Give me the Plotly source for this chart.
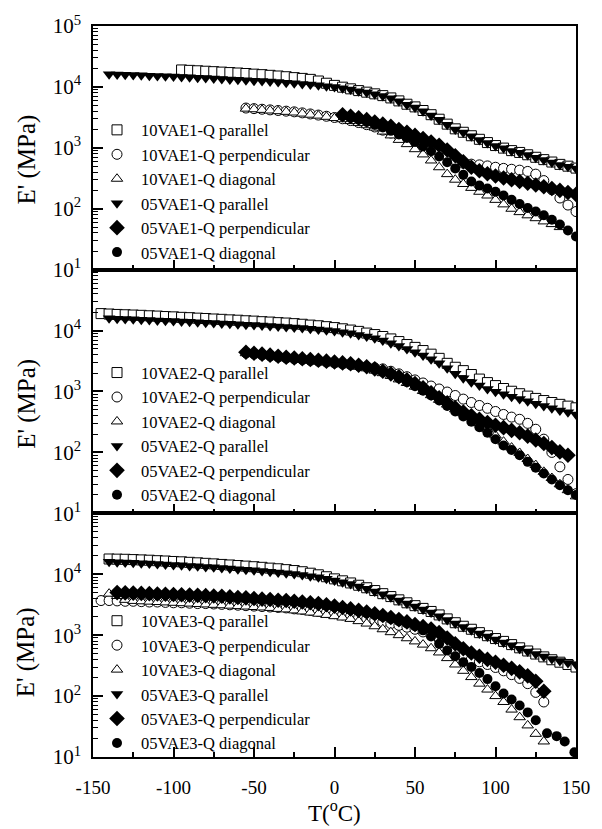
import plotly.graph_objects as go

# ---------------- data (T in degC, E' in MPa) ----------------
# Panel 1 : VAE1
T_p1_10par = list(range(-95, 151, 5))
E_p1_10par = [19000,18700,18400,18100,17800,17500,17200,16900,16600,16200,
              15900,15500,15100,14700,14200,13800,13300,12500,11500,
              10600,9900,9300,8700,8200,7700,7200,6600,5900,5200,
              4700,4100,3500,2950,2450,2050,1800,1580,1380,1220,
              1090,990,900,840,770,700,640,585,535,500,465]
T_p1_10perp = list(range(-55, 151, 5))
E_p1_10perp = [4500,4400,4300,4200,4100,4000,3900,3750,3600,3450,3300,
               3150,3000,2800,2600,2400,2200,1950,1750,1550,1380,
               1230,1100,980,860,740,630,560,540,525,505,
               480,460,445,430,410,370,290,205,150,115,90]
T_p1_10diag = list(range(-55, 141, 5))
E_p1_10diag = [4400,4300,4200,4100,4000,3900,3800,3650,3500,3380,3230,
               3080,2950,2750,2550,2350,2150,1850,1600,1350,1150,
               950,780,620,480,370,300,255,220,190,165,
               140,118,100,88,78,70,62,56,50]
T_p1_05par = list(range(-140, 151, 5))
E_p1_05par = [16200,16000,15800,15700,15500,15300,15100,15000,14800,14500,
              14400,14200,14000,13800,13500,13200,13100,12900,12600,12500,
              12300,12000,11700,11500,11200,11000,10700,10300,
              10000,9550,9100,8500,8100,7600,7100,6500,5800,5100,
              4600,4000,3400,2900,2400,2000,1780,1550,1350,1200,
              1070,980,890,830,760,690,630,575,525,490,457]
T_p1_05perp = list(range(5, 151, 5))
E_p1_05perp = [3500,3300,3100,2900,2650,2450,2250,2000,1800,1600,
               1420,1250,1100,920,740,590,480,420,375,345,
               320,300,280,262,245,230,215,200,185,172]
T_p1_05diag = list(range(5, 151, 5))
E_p1_05diag = [3300,3100,2900,2650,2400,2150,1900,1650,1450,1250,
               1050,880,720,580,460,360,280,240,215,190,
               165,140,120,103,90,78,66,55,44,35]

# Panel 2 : VAE2
T_p2_10par = list(range(-145, 151, 5))
E_p2_10par = [19000,18700,18400,18200,18000,17800,17500,17300,17000,16800,
              16500,16300,16000,15800,15500,15300,15000,14800,14500,14300,
              14000,13800,13500,13300,13000,12700,12300,12000,11600,
              11200,10700,10200,9700,9100,8600,8000,7300,6600,5900,
              5300,4700,4100,3500,2900,2500,2200,1900,1600,1400,
              1250,1120,1010,920,840,770,710,660,615,575,540]
T_p2_10perp = list(range(-55, 151, 5))
E_p2_10perp = [4300,4150,4000,3850,3700,3550,3450,3350,3250,3150,3050,
               2950,2850,2750,2650,2550,2450,2350,2150,1950,1750,
               1550,1380,1230,1100,980,860,750,660,590,530,
               470,420,380,350,300,240,165,100,58,36,21]
T_p2_10diag = list(range(-55, 151, 5))
E_p2_10diag = [4250,4100,3950,3800,3650,3500,3400,3300,3200,3100,3000,
               2900,2800,2700,2550,2400,2200,2000,1800,1580,1380,
               1200,1020,870,730,610,510,440,380,300,240,
               190,150,120,98,78,62,48,38,30,24,19]
T_p2_05par = list(range(-140, 151, 5))
E_p2_05par = [16000,15700,15500,15300,15100,14900,14700,14500,14300,14100,
              13900,13700,13500,13300,13100,12900,12700,12500,12300,12100,
              11900,11700,11500,11200,11000,10700,10400,10100,
              9800,9400,9000,8500,8000,7500,6900,6200,5600,5000,
              4400,3900,3400,2900,2400,1950,1650,1420,1250,1100,
              990,900,820,750,690,630,580,530,490,455,420]
T_p2_05perp = list(range(-55, 146, 5))
E_p2_05perp = [4400,4250,4100,3950,3800,3650,3550,3450,3350,3250,3150,
               3050,2950,2850,2700,2550,2350,2150,1950,1750,1550,
               1350,1150,950,790,650,540,460,400,350,310,
               280,255,230,210,185,160,140,120,102,90]
T_p2_05diag = list(range(-55, 151, 5))
E_p2_05diag = [4350,4200,4050,3900,3750,3600,3500,3400,3300,3200,3100,
               3000,2900,2800,2650,2500,2300,2100,1900,1650,1420,
               1220,1030,860,710,580,470,390,320,260,210,
               165,130,110,90,70,56,45,36,29,24,20]

# Panel 3 : VAE3
T_p3_10par = list(range(-140, 151, 5))
E_p3_10par = [17800,17700,17600,17400,17200,17000,16700,16500,16200,16000,
              15700,15400,15100,14800,14500,14200,13900,13600,13300,13000,
              12600,12300,11900,11500,11000,10400,9800,9100,
              8400,7800,7200,6600,6000,5400,4800,4300,3800,3400,
              3050,2750,2450,2150,1850,1600,1400,1250,1100,980,
              880,790,700,620,550,490,440,395,360,330,300]
T_p3_10perp = list(range(-145, 131, 5))
E_p3_10perp = [3700,3700,3650,3600,3600,3550,3500,3500,3450,3400,
               3400,3350,3300,3300,3250,3200,3150,3100,3050,3000,
               2950,2900,2850,2800,2700,2650,2550,2450,2350,
               2250,2150,2050,1950,1850,1750,1650,1550,1450,1350,
               1250,1130,1000,860,700,560,450,400,365,330,
               295,260,225,195,160,115,80]
T_p3_10diag = list(range(-140, 131, 5))
E_p3_10diag = [4800,4400,3800,3650,3600,3550,3500,3450,3400,3350,
               3300,3250,3200,3150,3100,3050,3000,2950,2900,2850,
               2800,2700,2650,2550,2450,2350,2250,2150,
               2050,1950,1850,1700,1550,1400,1250,1120,1000,890,
               790,700,610,520,420,330,260,205,160,128,
               100,80,60,45,33,24,18]
T_p3_05par = list(range(-140, 151, 5))
E_p3_05par = [16000,15800,15600,15400,15200,15000,14700,14500,14200,14000,
              13700,13500,13200,13000,12700,12400,12100,11900,11600,11300,
              11000,10700,10400,10100,9700,9300,8900,8400,
              7900,7400,6900,6300,5800,5200,4700,4200,3700,3300,
              2950,2650,2350,2050,1780,1550,1360,1200,1060,950,
              850,760,680,600,540,490,445,405,375,350,330]
T_p3_05perp = list(range(-135, 131, 5))
E_p3_05perp = [5000,4950,4900,4850,4800,4750,4700,4650,4600,4550,
               4500,4450,4400,4350,4250,4150,4100,4000,3900,3850,
               3750,3700,3600,3500,3400,3300,3150,
               3000,2850,2700,2550,2400,2250,2100,1950,1800,1650,
               1500,1380,1260,1100,900,720,600,510,450,400,
               360,320,285,250,215,175,120]
T_p3_05diag = list(range(-135, 126, 5)) + [132, 138, 143, 149]
E_p3_05diag = [4900,4850,4800,4750,4700,4650,4600,4550,4500,4450,
               4400,4350,4300,4250,4150,4050,4000,3900,3800,3750,
               3650,3600,3500,3400,3300,3200,3050,
               2900,2750,2600,2450,2300,2150,2000,1850,1700,1550,
               1400,1200,950,720,560,450,360,300,240,190,
               145,110,88,70,54,40,
               24.5,22,18,12]

panels = [
    ("VAE1", [(T_p1_10par, E_p1_10par), (T_p1_10perp, E_p1_10perp), (T_p1_10diag, E_p1_10diag),
              (T_p1_05par, E_p1_05par), (T_p1_05perp, E_p1_05perp), (T_p1_05diag, E_p1_05diag)]),
    ("VAE2", [(T_p2_10par, E_p2_10par), (T_p2_10perp, E_p2_10perp), (T_p2_10diag, E_p2_10diag),
              (T_p2_05par, E_p2_05par), (T_p2_05perp, E_p2_05perp), (T_p2_05diag, E_p2_05diag)]),
    ("VAE3", [(T_p3_10par, E_p3_10par), (T_p3_10perp, E_p3_10perp), (T_p3_10diag, E_p3_10diag),
              (T_p3_05par, E_p3_05par), (T_p3_05perp, E_p3_05perp), (T_p3_05diag, E_p3_05diag)]),
]
series_names = ["10{}-Q parallel", "10{}-Q perpendicular", "10{}-Q diagonal",
                "05{}-Q parallel", "05{}-Q perpendicular", "05{}-Q diagonal"]
x_ticks = [-150, -100, -50, 0, 50, 100, 150]
y_ticks = [10, 100, 1000, 10000, 100000]

# ---------------- styles ----------------
styles = [
    dict(symbol="square", size=10, color="white", line=dict(color="black", width=1)),
    dict(symbol="circle", size=10, color="white", line=dict(color="black", width=1)),
    dict(symbol="triangle-up", size=10, color="white", line=dict(color="black", width=1)),
    dict(symbol="triangle-down", size=11, color="black", line=dict(color="black", width=0)),
    dict(symbol="diamond", size=12, color="black", line=dict(color="black", width=0)),
    dict(symbol="circle", size=10, color="black", line=dict(color="black", width=0)),
]

FONT = "Liberation Serif, Times New Roman, serif"
fig = go.Figure()

for p, (tag, data) in enumerate(panels):
    sfx = "" if p == 0 else str(p + 1)
    for s, (T, E) in enumerate(data):
        assert len(T) == len(E), (tag, s, len(T), len(E))
        fig.add_trace(go.Scatter(
            x=T, y=E, mode="markers", name=series_names[s].format(tag),
            marker=styles[s], xaxis="x" + sfx, yaxis="y" + sfx,
            legend="legend" + sfx, showlegend=True))

domains = [[2/3, 1.0], [1/3, 2/3], [0.0, 1/3]]
legend_y = [0.8815, 0.5495, 0.2100]
layout = dict(
    width=602, height=829,
    margin=dict(l=93, r=20, t=24, b=72),
    paper_bgcolor="white", plot_bgcolor="white",
    font=dict(family=FONT, size=16, color="black"),
    showlegend=True,
)
for p in range(3):
    sfx = "" if p == 0 else str(p + 1)
    layout["xaxis" + sfx] = dict(
        domain=[0, 1], anchor="y" + sfx, range=[-150, 150],
        tickvals=x_ticks, ticktext=[str(v) for v in x_ticks] if p == 2 else [""] * 7,
        ticks="inside", ticklen=10, tickwidth=1.5, tickcolor="black",
        minor=dict(ticks="inside", ticklen=5, tickwidth=1.5, tickcolor="black", dtick=25, showgrid=False),
        showline=True, mirror=True, linecolor="black", linewidth=1.5,
        showgrid=False, zeroline=False,
        tickfont=dict(family=FONT, size=19, color="black"),
        ticklabelstandoff=12,
        **({} if p == 0 else {"matches": "x"}))
    layout["yaxis" + sfx] = dict(
        domain=domains[p], anchor="x" + sfx, type="log", range=[1, 5],
        tickvals=y_ticks,
        ticktext=["10<sup>%d</sup>" % k for k in range(1, 6)] if p == 0
                 else ["10<sup>%d</sup>" % k for k in range(1, 5)] + [""],
        ticks="inside", ticklen=10, tickwidth=1.5, tickcolor="black",
        minor=dict(ticks="inside", ticklen=5, tickwidth=1, tickcolor="black", dtick="D1", showgrid=False),
        showline=True, mirror=True, linecolor="black", linewidth=1.5,
        showgrid=False, zeroline=False,
        tickfont=dict(family=FONT, size=21, color="black"),
        ticklabelstandoff=6)
    layout["legend" + sfx] = dict(
        x=0.0, y=legend_y[p], xanchor="left", yanchor="top",
        bgcolor="rgba(0,0,0,0)", borderwidth=0,
        font=dict(family=FONT, size=16.5, color="black"),
        tracegroupgap=0, itemsizing="trace", itemwidth=38)

ann = []
for yc in [0.817, 0.483, 0.143]:
    ann.append(dict(text="E' (MPa)", xref="paper", yref="paper", x=-0.137, y=yc,
                    xanchor="center", yanchor="middle", textangle=-90, showarrow=False,
                    font=dict(family=FONT, size=25, color="black")))
ann.append(dict(text="T(<sup>o</sup>C)", xref="paper", yref="paper", x=0.501, y=-0.074,
                xanchor="center", yanchor="middle", showarrow=False,
                font=dict(family=FONT, size=23, color="black")))
layout["annotations"] = ann
fig.update_layout(**layout)
fig.write_html("out.html")
